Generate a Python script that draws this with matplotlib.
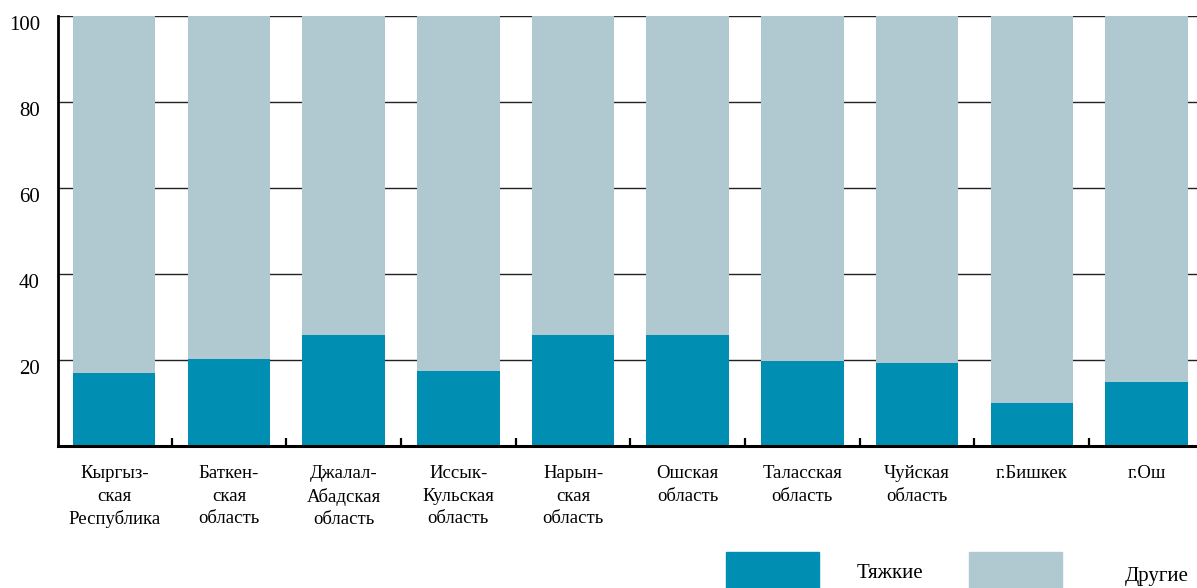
import numpy as np
import matplotlib.pyplot as plt
import matplotlib.transforms as mtransforms
from matplotlib.patches import Rectangle

plt.rcParams['font.family'] = ['Liberation Serif', 'DejaVu Serif']

regions = ['Кыргыз-\nская\nРеспублика', 'Баткен-\nская\nобласть', 'Джалал-\nАбадская\nобласть',
           'Иссык-\nКульская\nобласть', 'Нарын-\nская\nобласть', 'Ошская\nобласть',
           'Таласская\nобласть', 'Чуйская\nобласть', 'г.Бишкек', 'г.Ош']
severe = [17.0, 20.2, 25.8, 17.5, 25.7, 25.8, 19.8, 19.3, 10.0, 14.9]
other = [83.0, 79.8, 74.2, 82.5, 74.3, 74.2, 80.2, 80.7, 90.0, 85.1]
yticks = [20, 40, 60, 80, 100]

dark = '#008fb3'
light = '#b0c9d0'

fig = plt.figure(figsize=(11.97, 5.88), dpi=100)
ax = fig.add_axes([58/1197, 142/588, 1 - 58/1197, 430/588])

x = np.arange(len(regions))
ax.bar(x, severe, width=0.72, color=dark, zorder=2)
ax.bar(x, other, width=0.72, bottom=severe, color=light, zorder=2)

ax.set_xlim(-0.49, 9.44)
ax.set_ylim(0, 100)
ax.set_yticks(yticks)
ax.set_yticklabels([str(v) for v in yticks], fontsize=15)
ax.tick_params(axis='y', length=0, pad=13)
ax.yaxis.grid(True, color='#222222', linewidth=1.0, zorder=0)
ax.set_axisbelow(True)

ax.set_xticks(x)
ax.set_xticklabels(regions, fontsize=13.5, linespacing=1.4)
ax.tick_params(axis='x', length=0, pad=14)
ax.set_xticks(x[:-1] + 0.5, minor=True)
ax.tick_params(axis='x', which='minor', direction='in', length=6, width=1.6, color='black')

offset = mtransforms.ScaledTranslation(0, -7/100, fig.dpi_scale_trans)
for lbl in ax.get_yticklabels():
    lbl.set_transform(lbl.get_transform() + offset)

for s in ['top', 'right']:
    ax.spines[s].set_visible(False)
ax.spines['left'].set_linewidth(2.0)
ax.spines['bottom'].set_linewidth(2.2)

# legend at the bottom
fig.patches.append(Rectangle((726/1197, -0.01), 93/1197, 36/588 + 0.01,
                             transform=fig.transFigure, color=dark, figure=fig))
fig.patches.append(Rectangle((969/1197, -0.01), 93/1197, 36/588 + 0.01,
                             transform=fig.transFigure, color=light, figure=fig))
fig.text(890/1197, 14/588, 'Тяжкие', fontsize=15, ha='center', va='center')
fig.text(1157/1197, 12/588, 'Другие', fontsize=15, ha='center', va='center')

fig.savefig('out.png', dpi=100)
